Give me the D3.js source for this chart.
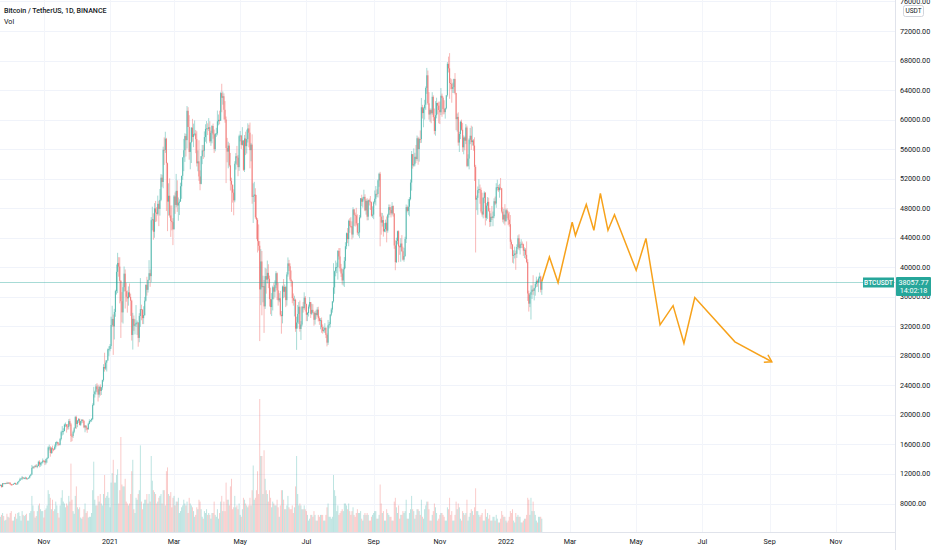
<!DOCTYPE html>
<html><head><meta charset="utf-8">
<script src="https://cdn.jsdelivr.net/npm/d3@7/dist/d3.min.js"></script>
<style>
html,body{margin:0;padding:0;background:#fff;}
svg{display:block;font-family:Roboto,"Noto Sans",sans-serif;}
</style></head>
<body>
<svg id="chart" width="932" height="550"></svg>
<script>
// ---------------- DATA ----------------
const title = "Bitcoin / TetherUS, 1D, BINANCE";
const volLabel = "Vol";
const symbol = "BTCUSDT";
const lastPrice = 38057.77;
const countdown = "14:02:18";
const startDate = "2020-09-22";
const firstOpenK = 10.42;
// daily close (thousand USDT), one line per month
const closeK = [
10.53,10.24,10.74,10.69,10.73,10.77,10.69,10.84,10.78,
10.62,10.57,10.55,10.67,10.79,10.60,10.67,10.92,11.05,11.30,11.38,11.54,11.43,11.43,11.50,11.33,11.37,11.51,11.76,11.92,12.82,12.99,12.93,13.13,13.03,13.07,13.65,13.28,13.46,13.56,13.80,
13.76,13.55,14.02,14.15,15.59,15.59,14.84,15.48,15.33,15.30,15.70,16.29,16.32,16.07,15.97,16.73,17.66,17.80,17.82,18.68,18.70,18.42,18.37,19.16,18.72,17.15,17.14,17.72,18.18,19.70,
18.77,19.22,19.43,18.65,19.15,19.36,19.17,18.32,18.55,18.25,18.04,18.80,19.17,19.27,19.44,21.34,22.80,23.14,23.86,23.48,22.75,23.83,23.24,23.73,24.71,26.49,26.28,27.08,27.39,28.88,28.92,
29.33,32.18,33.00,31.99,33.95,36.77,39.38,40.58,40.09,38.15,35.40,33.89,37.30,39.13,36.76,36.00,35.79,36.60,35.98,35.47,30.83,33.01,32.08,32.26,32.47,32.51,30.43,33.40,34.32,34.27,33.11,
33.52,35.47,37.62,36.94,38.29,39.19,38.80,46.37,46.50,44.81,47.97,47.41,47.23,48.59,47.91,49.13,52.13,51.55,55.91,55.89,57.41,54.09,48.89,49.68,47.02,46.28,46.11,45.14,
49.59,48.44,50.35,48.37,48.75,48.88,50.97,52.38,54.88,55.85,57.77,57.22,61.19,59.00,55.62,56.90,58.91,57.65,58.03,58.10,57.35,54.08,54.34,52.30,51.29,55.03,55.82,55.78,57.63,58.74,58.80,
58.73,58.97,57.06,58.20,59.13,57.99,56.00,58.08,58.13,59.77,59.96,59.84,63.59,62.96,63.16,61.33,60.01,56.15,55.66,56.47,53.80,51.70,51.19,50.10,49.06,54.02,55.03,54.84,53.56,57.75,
57.83,56.58,57.17,53.20,57.44,56.40,57.36,58.80,58.23,55.86,56.61,49.53,49.68,49.84,46.76,46.43,43.54,42.91,37.00,40.78,37.30,37.45,34.70,38.80,38.32,39.24,38.44,35.69,34.61,35.66,37.29,
36.69,37.57,39.19,36.86,35.52,35.80,33.57,33.38,37.39,36.68,37.33,35.55,39.02,40.52,40.14,38.35,38.09,35.82,35.48,35.60,31.68,32.51,33.67,34.65,31.64,32.24,34.65,34.46,35.87,35.04,
33.57,33.80,34.67,35.29,33.69,34.22,33.86,32.88,33.81,33.52,34.26,33.09,32.73,32.82,31.88,31.38,31.52,31.78,30.84,29.79,32.14,32.29,33.58,34.28,35.38,37.27,39.46,40.00,40.02,42.21,41.46,
39.85,39.15,38.21,39.72,40.87,42.84,44.61,43.82,46.29,45.60,45.55,44.43,47.83,47.10,47.02,45.94,44.69,44.71,46.76,49.34,48.87,49.29,49.53,47.71,48.99,46.85,49.07,48.90,48.81,46.99,47.13,
48.81,49.28,49.94,49.92,51.76,52.66,46.86,46.05,46.39,44.85,45.17,46.03,44.96,47.11,48.14,47.75,47.30,48.30,47.26,42.95,40.69,43.56,44.88,42.83,42.71,43.21,42.17,41.03,41.52,43.82,
48.14,47.63,48.20,49.22,51.47,55.32,53.79,53.95,54.96,54.66,57.47,56.01,57.37,57.35,61.67,60.88,61.53,62.01,64.28,66.00,62.21,60.69,61.29,60.86,63.08,60.33,58.46,60.59,62.25,61.89,61.30,
61.00,63.23,62.94,61.44,61.01,61.53,63.30,67.55,66.94,64.95,64.83,64.16,64.40,65.50,63.61,60.06,60.36,56.89,58.05,59.71,58.62,56.25,57.57,57.14,58.92,53.73,54.72,57.27,57.81,56.95,
57.18,56.48,53.60,49.15,49.40,50.44,50.59,50.47,47.55,47.14,49.39,50.08,46.70,48.34,48.86,47.63,46.13,46.83,46.68,46.91,48.94,48.63,50.82,50.85,50.43,50.80,50.70,47.54,46.46,47.12,46.22,
47.72,47.29,46.43,45.83,43.45,43.08,41.55,41.67,41.86,41.82,42.74,43.92,42.59,43.10,43.18,43.11,42.25,42.38,41.68,40.70,36.45,35.07,36.28,36.67,36.96,36.81,37.16,37.72,38.17,37.92,38.48,
38.74,36.95,38.06
];
// daily high (thousand USDT)
const highK = [
10.57,10.54,10.77,10.76,10.78,10.80,10.95,10.86,10.84,
10.91,10.66,10.60,10.70,10.80,10.80,10.69,10.96,11.11,11.49,11.44,11.73,11.56,11.55,11.63,11.54,11.42,11.53,11.83,12.03,13.22,13.04,13.03,13.17,13.35,13.25,13.79,13.86,13.65,13.67,14.10,
13.90,13.82,14.07,14.25,15.75,15.97,15.77,15.65,15.84,15.47,15.97,16.34,16.48,16.33,16.15,16.88,17.86,18.48,18.19,18.82,18.97,18.75,18.77,19.42,19.48,18.92,17.45,17.89,18.34,19.86,
19.89,19.31,19.57,19.52,19.18,19.42,19.39,19.29,18.64,18.56,18.27,18.94,19.41,19.35,19.57,21.56,23.80,23.28,24.17,24.30,24.10,23.84,24.14,23.78,24.78,26.87,28.42,27.39,27.42,29.00,29.30,
29.60,33.30,34.78,33.60,34.36,36.94,40.37,41.95,41.36,41.35,38.26,36.63,37.85,40.10,39.70,37.89,36.85,37.40,37.80,36.42,35.60,33.82,33.46,32.94,34.88,32.79,32.56,33.78,38.53,34.93,34.30,
34.72,35.98,37.66,38.71,38.30,40.96,39.70,46.79,48.20,47.31,48.68,48.98,48.15,49.70,49.00,50.60,52.62,52.53,56.33,57.59,58.35,57.53,54.18,51.37,52.04,48.37,48.37,46.65,
49.79,50.13,52.64,51.77,49.45,49.20,51.45,52.40,54.90,57.39,58.15,58.06,61.84,61.68,60.60,56.94,58.97,60.10,59.45,59.88,58.59,58.42,55.83,57.20,53.13,55.07,56.56,56.57,58.40,59.37,59.80,
59.49,60.20,59.78,58.49,59.25,59.46,58.65,58.15,58.89,61.22,60.69,61.20,63.77,64.85,63.80,63.55,62.50,60.41,57.52,57.00,56.80,55.48,52.13,51.17,50.56,54.36,55.46,56.43,55.19,57.96,
58.45,57.92,58.98,57.20,57.91,58.36,58.64,59.50,59.30,59.59,56.84,58.00,51.37,51.57,50.70,49.80,46.66,45.80,43.55,42.45,42.20,38.85,38.27,39.92,39.82,40.90,40.41,38.86,37.24,36.50,37.50,
37.90,38.22,39.48,39.29,37.90,36.49,36.79,34.07,37.53,38.40,37.68,37.43,39.33,41.33,41.00,40.53,39.56,38.20,36.45,36.14,35.75,33.30,34.88,35.30,35.50,32.70,34.75,35.29,36.60,36.10,
35.04,33.94,34.95,35.95,35.29,35.06,35.00,33.92,34.08,34.25,34.59,34.65,33.34,33.11,33.19,32.25,31.94,32.42,31.89,31.05,32.86,32.59,33.65,34.50,35.40,40.55,39.54,40.90,40.63,42.32,42.60,
42.60,40.45,39.77,39.97,41.38,43.39,44.70,45.31,46.45,46.64,46.78,46.22,48.14,47.89,47.40,48.05,47.16,46.00,47.07,49.38,49.82,49.52,50.50,49.88,49.23,49.36,49.17,49.30,49.65,48.91,48.25,
48.95,50.40,51.00,50.55,51.90,52.80,52.92,47.38,47.35,47.00,45.98,46.45,46.88,47.25,48.50,48.49,48.15,48.82,48.37,47.35,43.64,44.00,44.97,45.00,42.95,43.94,44.35,42.79,42.62,44.13,
48.50,48.36,49.23,49.50,51.89,55.75,55.34,56.10,55.50,56.56,57.84,57.68,57.55,58.53,62.93,62.00,61.72,62.68,64.49,67.00,66.64,63.73,61.50,61.49,63.71,63.29,61.50,62.50,62.96,62.30,62.44,
62.44,64.27,63.52,63.13,62.62,61.60,63.30,67.79,68.53,69.00,65.60,65.46,65.00,65.55,66.30,63.62,60.82,60.98,58.35,59.85,60.00,59.53,57.86,57.71,59.40,59.18,55.30,57.45,58.87,59.18,
59.04,57.37,57.60,53.87,49.70,50.94,51.93,51.20,50.80,50.10,49.49,50.28,50.19,48.69,49.50,49.42,47.99,47.30,48.30,47.54,49.33,49.57,51.38,51.86,51.16,51.30,52.09,50.70,48.12,47.90,48.55,
47.94,47.99,47.57,47.50,47.07,43.75,43.14,42.30,42.79,42.25,43.10,44.32,44.46,43.45,43.80,43.48,43.20,42.70,42.60,43.50,41.08,36.83,36.50,37.55,37.55,38.92,37.23,38.00,38.72,38.36,38.74,
39.27,38.86,38.35
];
// daily low (thousand USDT)
const lowK = [
10.35,10.14,10.20,10.60,10.66,10.62,10.67,10.65,10.67,
10.53,10.37,10.51,10.53,10.62,10.52,10.57,10.54,10.82,11.05,11.25,11.18,11.30,11.30,11.27,11.22,11.30,11.35,11.41,11.69,11.90,12.69,12.72,12.89,12.90,12.78,13.05,12.90,12.98,13.13,13.42,
13.62,13.20,13.30,13.52,14.09,15.19,14.34,14.71,14.81,15.08,15.28,15.44,15.95,15.77,15.86,15.87,16.55,17.21,17.33,17.76,18.35,17.61,18.00,18.04,18.50,16.33,16.45,16.88,17.52,18.18,
18.11,18.33,18.93,18.57,18.50,18.86,18.90,18.20,17.65,17.91,17.57,18.02,18.73,19.00,19.05,19.29,21.23,22.35,22.75,23.06,21.81,22.35,22.60,22.70,23.40,24.50,25.86,26.08,25.88,27.32,28.00,
28.62,28.95,31.96,28.13,30.22,33.29,36.30,36.50,38.72,35.11,30.42,32.53,32.38,36.70,34.41,35.33,33.85,34.80,35.88,33.40,30.07,28.85,31.39,30.90,31.93,30.84,29.24,29.84,31.93,32.82,32.30,
32.30,33.42,35.36,36.16,36.57,38.22,37.35,37.99,45.00,43.73,43.99,46.13,46.20,47.02,45.57,47.00,48.95,50.90,50.70,53.86,55.48,47.62,44.89,47.00,46.72,44.11,45.00,43.00,
45.12,47.23,48.10,47.50,46.30,47.07,48.90,49.27,51.84,53.02,54.27,55.00,56.08,59.00,54.57,53.27,54.12,57.00,56.27,57.82,55.45,53.65,53.00,51.70,50.43,51.23,53.96,54.67,54.90,57.00,56.77,
57.90,58.45,56.85,56.45,56.79,57.41,55.47,55.70,57.66,57.87,59.22,59.36,59.85,61.00,62.02,60.00,59.58,51.40,54.22,53.40,53.60,50.40,47.50,48.75,47.04,48.80,53.22,53.85,52.33,53.06,
57.05,56.03,56.48,53.05,52.90,55.20,55.40,56.90,56.24,53.40,54.35,48.60,46.00,48.85,46.55,43.80,42.00,42.25,30.00,34.86,33.49,35.25,31.11,34.35,36.42,37.80,37.17,34.68,33.63,33.40,34.15,
35.67,35.92,37.17,35.57,34.80,35.26,33.35,31.00,32.40,35.80,35.94,34.60,34.80,38.73,39.50,38.10,37.37,35.13,34.80,33.34,31.25,28.81,31.69,32.31,31.27,30.15,32.00,33.86,34.23,34.00,
32.71,32.70,33.33,34.40,33.13,33.52,33.80,32.08,32.25,33.00,33.31,32.66,32.20,31.60,31.13,31.02,31.18,31.10,30.41,29.28,29.48,31.71,31.85,33.37,33.85,35.21,36.40,38.77,39.20,38.32,41.04,
39.42,38.69,37.64,37.51,37.33,39.85,42.45,43.26,42.85,44.67,45.35,43.77,44.00,45.60,45.50,45.67,44.38,44.20,43.95,46.62,48.29,48.08,49.05,47.60,47.13,46.35,46.37,48.37,47.76,46.86,46.70,
46.51,48.60,48.37,49.51,49.45,50.90,42.84,44.41,45.51,44.15,44.75,44.74,43.37,44.68,46.72,47.06,46.75,47.04,46.85,42.50,39.60,40.57,43.09,40.68,41.68,40.75,42.10,40.90,40.75,41.41,
43.28,47.43,47.10,46.90,49.06,50.38,53.36,53.62,53.67,54.11,54.42,53.88,54.30,56.82,56.85,60.15,58.96,60.00,61.32,63.48,62.00,60.00,59.71,59.51,60.65,59.82,58.00,57.82,60.17,60.72,59.50,
59.40,60.62,60.38,60.70,60.72,60.13,61.38,63.11,66.38,62.82,64.10,62.28,63.61,63.58,63.41,58.57,58.37,56.47,55.61,57.36,58.49,55.63,55.30,55.84,56.68,53.55,53.61,53.26,56.67,55.89,
56.48,55.78,51.68,42.00,47.73,47.10,50.04,48.60,47.32,46.85,46.62,48.68,45.67,46.32,46.55,47.51,45.46,45.53,46.40,45.56,46.63,48.42,48.05,50.40,50.18,49.42,50.45,47.30,46.09,45.90,45.68,
46.21,46.65,45.70,45.50,42.50,42.43,40.61,40.50,41.20,39.65,41.26,42.45,42.31,41.73,42.60,42.59,41.54,41.25,41.11,40.55,35.44,34.00,34.60,32.92,35.70,36.25,35.51,36.15,37.31,37.36,36.63,
38.00,36.59,36.25
];
// daily volume (thousand BTC)
const volK = [
40,45,50,42,30,32,48,40,38,
50,55,30,30,40,48,35,50,52,42,30,55,45,42,45,48,30,30,50,55,95,70,55,38,42,55,70,75,60,55,55,
38,58,62,70,110,100,90,60,85,55,60,80,70,50,38,70,90,110,80,75,65,75,70,95,80,180,85,55,48,95,
120,65,60,65,38,35,40,60,75,50,55,38,40,40,50,110,185,85,70,70,95,80,100,75,70,100,150,90,95,105,90,
65,130,155,190,130,130,150,165,75,110,250,125,120,120,140,80,75,70,75,100,160,190,60,50,90,85,100,110,228,80,60,
75,85,85,100,75,100,80,200,135,110,105,100,75,80,90,95,100,75,110,110,70,160,170,100,95,105,65,90,
95,70,80,80,90,50,55,65,70,85,75,70,80,50,90,75,70,65,55,40,45,65,60,85,80,60,40,35,55,50,60,
45,50,45,35,50,50,80,45,40,60,35,50,80,95,55,80,55,130,85,85,70,120,140,60,65,95,65,70,60,75,
45,40,60,90,85,75,70,65,70,90,70,110,175,85,90,110,160,100,350,200,200,100,215,140,110,100,80,110,90,65,80,
75,70,70,85,65,40,70,110,110,85,60,60,70,95,65,60,60,70,50,65,120,200,100,70,75,70,60,60,70,60,
55,45,30,35,45,45,40,55,45,30,30,45,40,45,45,45,30,30,45,65,75,40,40,35,40,150,110,95,55,70,45,
50,55,60,55,75,75,70,60,75,55,45,55,65,45,40,50,60,50,50,55,35,30,45,50,45,50,45,30,30,40,45,
50,55,55,35,35,45,125,75,50,55,30,30,60,50,45,40,40,30,30,80,90,65,50,70,35,45,45,55,50,55,
85,35,35,50,60,95,60,55,35,45,60,60,55,45,85,40,35,60,70,80,80,60,30,30,45,55,75,65,50,30,35,
45,50,50,45,40,30,30,65,60,90,45,55,30,30,45,80,60,75,65,35,30,55,50,45,50,85,30,40,50,60,
55,45,65,115,55,55,45,40,45,50,30,30,60,40,50,35,45,30,30,40,40,30,45,35,25,25,35,55,45,40,40,
30,25,30,40,55,50,60,30,25,50,40,45,40,40,25,25,30,35,35,45,90,85,45,90,55,80,55,45,30,25,40,
40,40,35
];
// projection path drawn on the chart (orange)
const projDates = ["2022-02-03","2022-02-10","2022-02-18","2022-03-03","2022-03-06","2022-03-16","2022-03-23","2022-03-29","2022-04-05","2022-04-11","2022-05-01","2022-05-10","2022-05-23","2022-06-04","2022-06-14","2022-06-24","2022-07-31","2022-09-03"];
const projPrices = [38057,41400,37900,46100,44300,48500,45000,50000,45000,47100,39600,43900,32200,34800,29700,35900,29900,27200];
// axes
const priceTicks = [8000,12000,16000,20000,24000,28000,32000,36000,40000,44000,48000,52000,56000,60000,64000,68000,72000,76000];
const timeTicks = ["2020-11-01","2021-01-01","2021-03-01","2021-05-01","2021-07-01","2021-09-01","2021-11-01","2022-01-01","2022-03-01","2022-05-01","2022-07-01","2022-09-01","2022-11-01"];
const timeTickLabels = ["Nov","2021","Mar","May","Jul","Sep","Nov","2022","Mar","May","Jul","Sep","Nov"];

// ---------------- DRAW ----------------
const W = 932, H = 550;
const plotRight = 895, plotBottom = 532;
const svg = d3.select("#chart");
const parse = d3.utcParse("%Y-%m-%d");
const t0 = parse(startDate);

const x = d3.scaleUtc().domain([parse("2021-01-01"), parse("2022-01-01")]).range([110, 506]);
const y = d3.scaleLinear().domain([8000, 72000]).range([503.5, 31]);

const candles = closeK.map((c, i) => {
  const o = i ? closeK[i - 1] : firstOpenK;
  return {
    date: d3.utcDay.offset(t0, i),
    o: o * 1000, c: c * 1000,
    h: Math.max(highK[i], o, c) * 1000,
    l: Math.min(lowK[i], o, c) * 1000,
    v: volK[i]
  };
});
const vScale = d3.scaleLinear().domain([0, d3.max(volK)]).range([plotBottom, 399]);

svg.append("rect").attr("width", W).attr("height", H).attr("fill", "#fff");

svg.append("clipPath").attr("id", "plot")
  .append("rect").attr("x", 0).attr("y", 0).attr("width", plotRight).attr("height", plotBottom);

const grid = svg.append("g").attr("clip-path", "url(#plot)");
grid.selectAll("line.h").data(priceTicks).join("line")
  .attr("x1", 0).attr("x2", plotRight)
  .attr("y1", d => Math.round(y(d)) + 0.5).attr("y2", d => Math.round(y(d)) + 0.5)
  .attr("stroke", "#f0f3fa").attr("stroke-width", 1);
grid.selectAll("line.v").data(timeTicks).join("line")
  .attr("x1", d => Math.round(x(parse(d))) + 0.5).attr("x2", d => Math.round(x(parse(d))) + 0.5)
  .attr("y1", 0).attr("y2", plotBottom)
  .attr("stroke", "#f3f5fa").attr("stroke-width", 1);

const up = "#26a69a", down = "#ef5350";
const plot = svg.append("g").attr("clip-path", "url(#plot)");

// volume
plot.append("g").selectAll("rect").data(candles).join("rect")
  .attr("x", d => x(d.date) - 0.5)
  .attr("width", 1)
  .attr("y", d => vScale(d.v))
  .attr("height", d => plotBottom - vScale(d.v))
  .attr("fill", d => d.c >= d.o ? up : down)
  .attr("opacity", 0.3);

// candles
const cg = plot.append("g");
cg.selectAll("line").data(candles).join("line")
  .attr("x1", d => x(d.date)).attr("x2", d => x(d.date))
  .attr("y1", d => y(d.h)).attr("y2", d => y(d.l))
  .attr("stroke", d => d.c >= d.o ? up : down)
  .attr("stroke-width", 0.9).attr("opacity", 0.45);
cg.selectAll("rect").data(candles).join("rect")
  .attr("x", d => x(d.date) - 0.55).attr("width", 1.1)
  .attr("y", d => y(Math.max(d.o, d.c)))
  .attr("height", d => Math.max(0.8, Math.abs(y(d.o) - y(d.c))))
  .attr("fill", d => d.c >= d.o ? up : down)
  .attr("opacity", 0.6);

// last price line
const yLast = Math.round(y(lastPrice)) + 0.5;
plot.append("line").attr("x1", 0).attr("x2", plotRight).attr("y1", yLast).attr("y2", yLast)
  .attr("stroke", up).attr("stroke-width", 1).attr("opacity", 0.4);

// projection path
const proj = projDates.map((d, i) => [x(parse(d)), y(projPrices[i])]);
plot.append("path").attr("d", d3.line()(proj))
  .attr("fill", "none").attr("stroke", "#f7a21b").attr("stroke-width", 1.5)
  .attr("stroke-linejoin", "miter");
{
  const [x1, y1] = proj[proj.length - 2], [x2, y2] = proj[proj.length - 1];
  const ang = Math.atan2(y2 - y1, x2 - x1), L = 8, A = Math.PI / 5.5;
  const p1 = [x2 - L * Math.cos(ang - A), y2 - L * Math.sin(ang - A)];
  const p2 = [x2 - L * Math.cos(ang + A), y2 - L * Math.sin(ang + A)];
  plot.append("path").attr("d", d3.line()([p1, [x2, y2], p2]))
    .attr("fill", "none").attr("stroke", "#f7a21b").attr("stroke-width", 1.5);
}

// axes lines
svg.append("line").attr("x1", plotRight + 0.5).attr("x2", plotRight + 0.5).attr("y1", 0).attr("y2", H)
  .attr("stroke", "#e0e3eb");
svg.append("line").attr("x1", 0).attr("x2", plotRight).attr("y1", plotBottom + 0.5).attr("y2", plotBottom + 0.5)
  .attr("stroke", "#e0e3eb");

// price axis labels
svg.append("g").selectAll("text").data(priceTicks).join("text")
  .attr("x", 900).attr("y", d => y(d)).attr("dy", "0.35em")
  .attr("font-size", 7.2).attr("fill", "#131722").text(d => d3.format(".2f")(d));

// USDT unit box
svg.append("rect").attr("x", 903.5).attr("y", 5.5).attr("width", 20).attr("height", 11).attr("rx", 2)
  .attr("fill", "#fff").attr("stroke", "#d1d4dc");
svg.append("text").attr("x", 913.5).attr("y", 11).attr("dy", "0.35em").attr("text-anchor", "middle")
  .attr("font-size", 6.5).attr("fill", "#131722").text("USDT");

// time axis labels
svg.append("g").selectAll("text").data(timeTicks).join("text")
  .attr("x", d => x(parse(d))).attr("y", 541).attr("dy", "0.35em").attr("text-anchor", "middle")
  .attr("font-size", 7.2).attr("fill", "#131722").text((d, i) => timeTickLabels[i]);

// symbol label on the price line
svg.append("rect").attr("x", 863).attr("y", yLast - 5).attr("width", 31).attr("height", 10)
  .attr("fill", up);
svg.append("text").attr("x", 878.5).attr("y", yLast).attr("dy", "0.35em").attr("text-anchor", "middle")
  .attr("font-size", 6.6).attr("font-weight", 500).attr("fill", "#fff").text(symbol);
// price box on axis
svg.append("rect").attr("x", 896).attr("y", yLast - 5.5).attr("width", 35).attr("height", 19).attr("rx", 1)
  .attr("fill", up);
svg.append("text").attr("x", 913.5).attr("y", yLast).attr("dy", "0.35em").attr("text-anchor", "middle")
  .attr("font-size", 7.2).attr("fill", "#fff").text(d3.format(".2f")(lastPrice));
svg.append("text").attr("x", 913.5).attr("y", yLast + 8).attr("dy", "0.35em").attr("text-anchor", "middle")
  .attr("font-size", 7.2).attr("fill", "#fff").text(countdown);

// legend
svg.append("text").attr("x", 4).attr("y", 11).attr("dy", "0.35em")
  .attr("font-size", 7.1).attr("font-weight", 500).attr("fill", "#131722").text(title);
svg.append("text").attr("x", 4).attr("y", 22).attr("dy", "0.35em")
  .attr("font-size", 7.1).attr("fill", "#131722").text(volLabel);
</script>
</body></html>
